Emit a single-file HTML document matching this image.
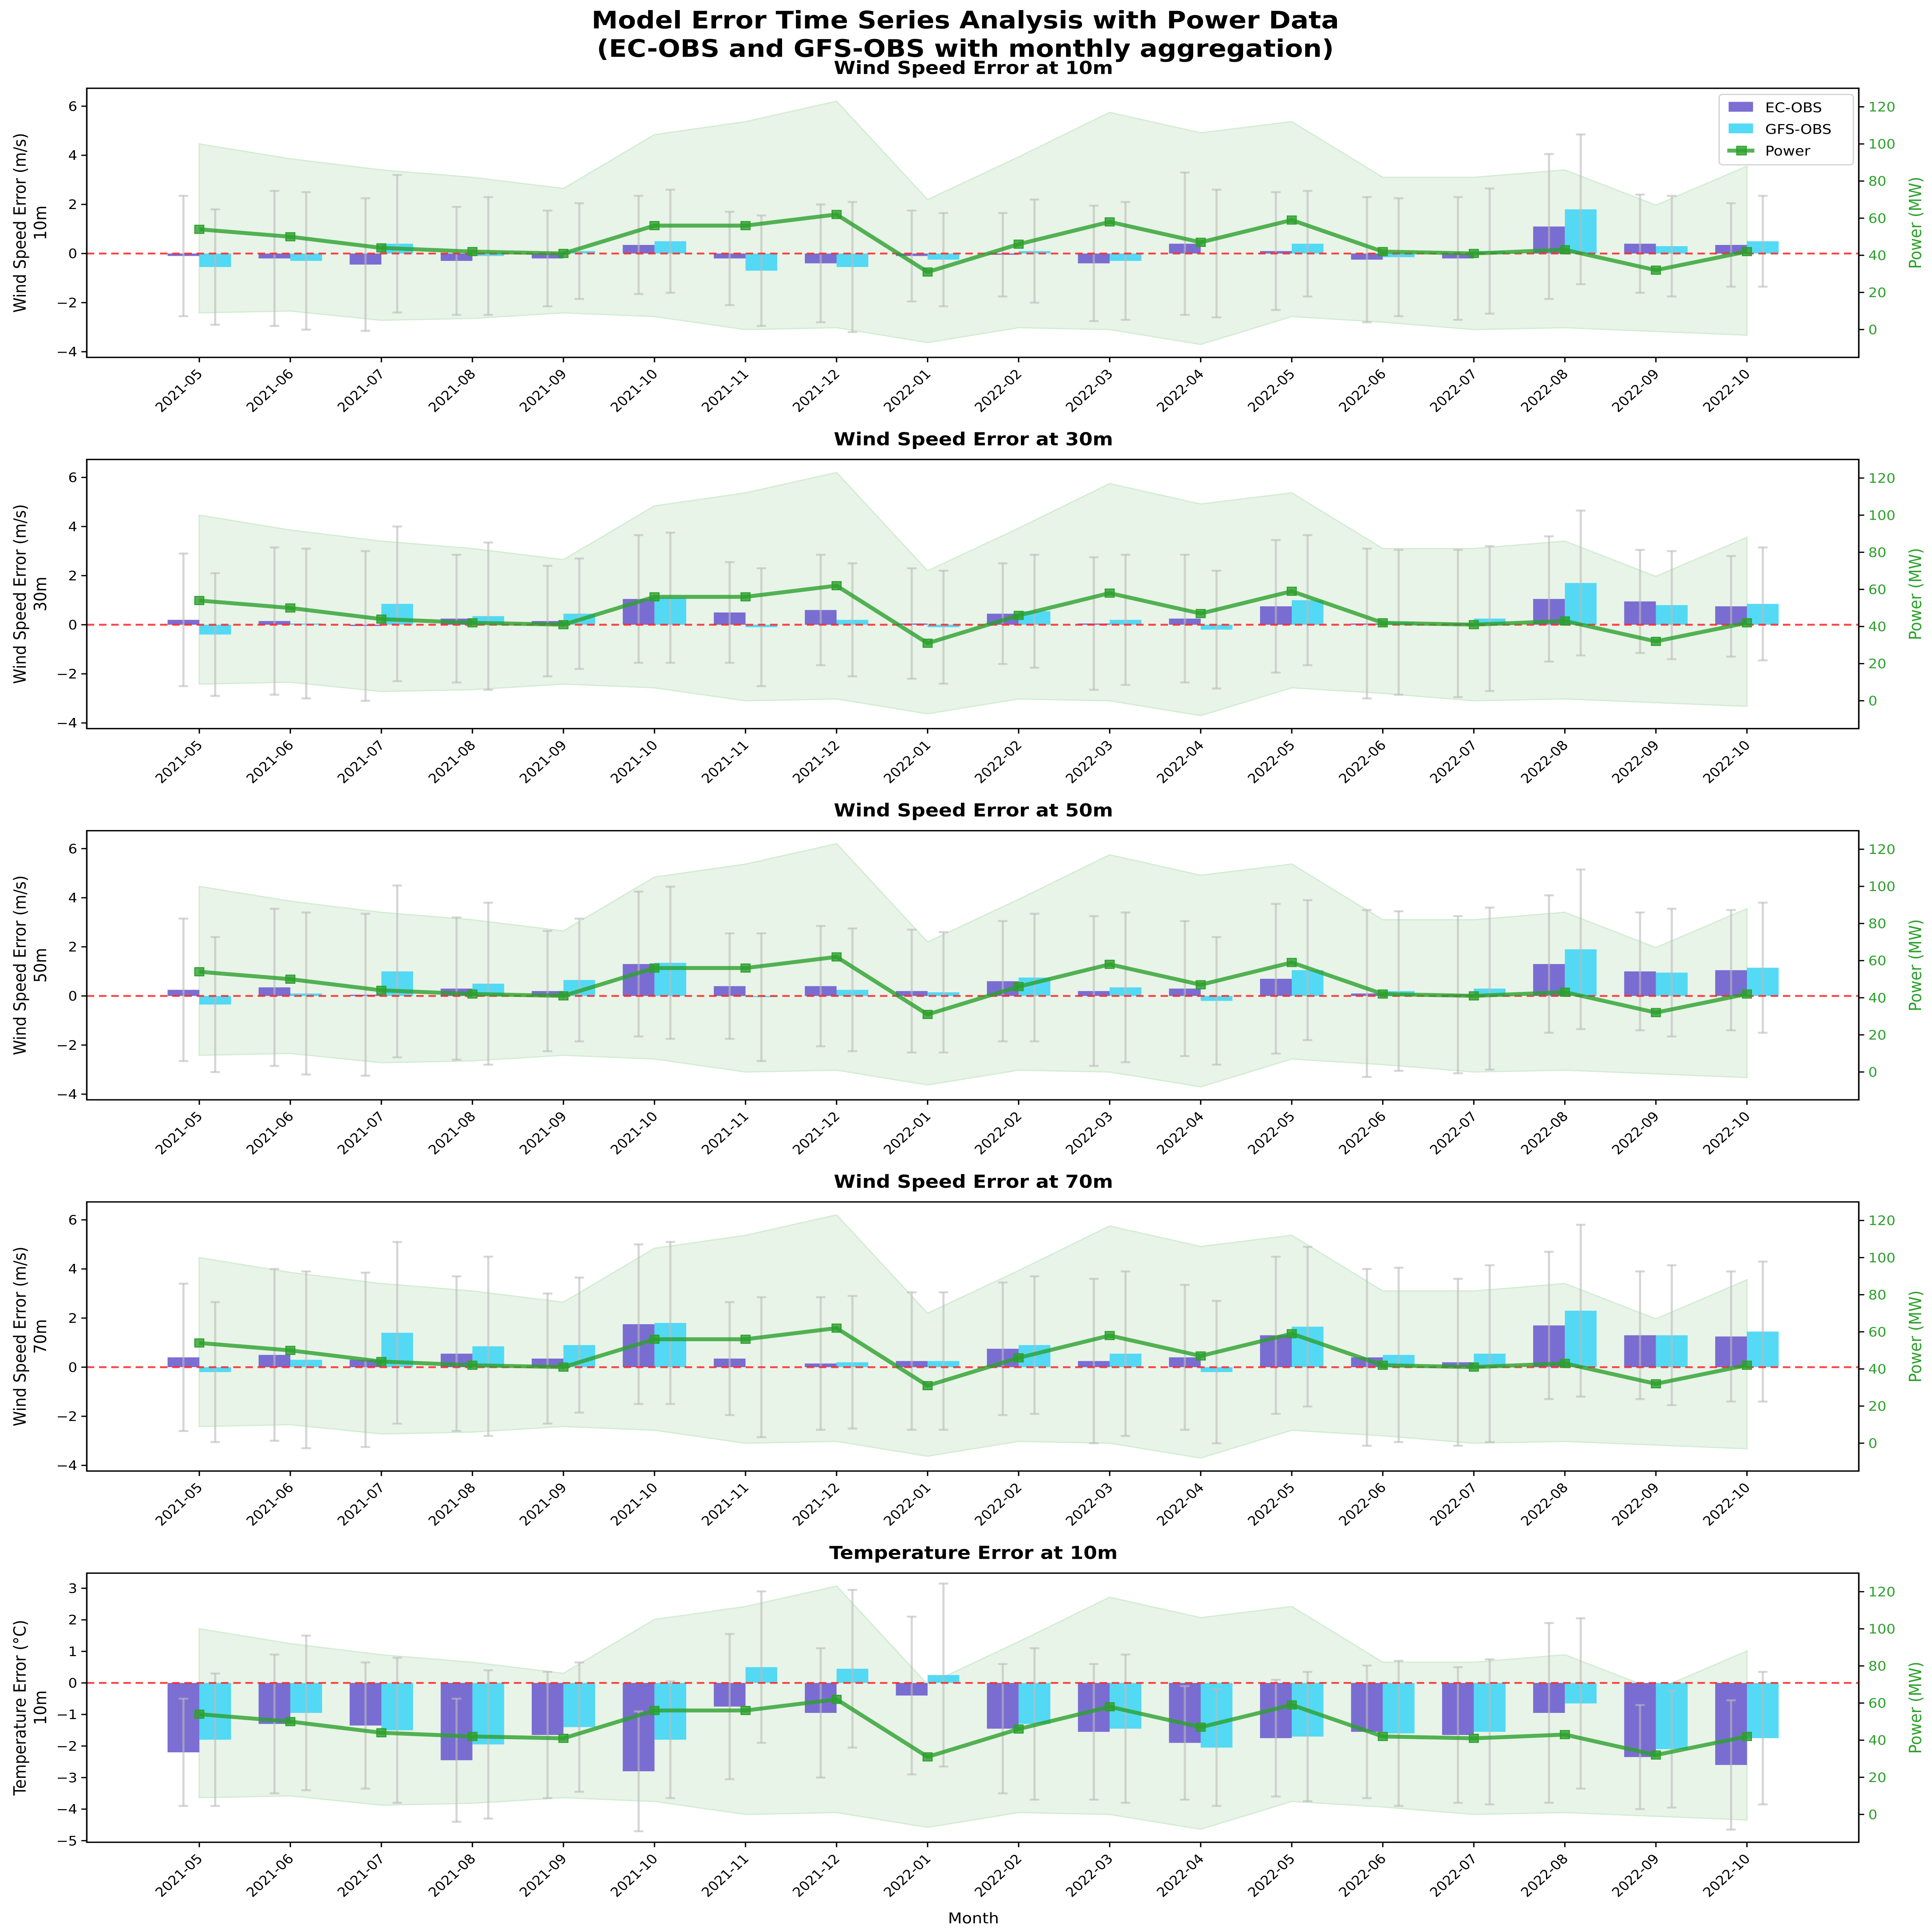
<!DOCTYPE html>
<html><head><meta charset="utf-8">
<style>
html,body{margin:0;padding:0;background:#fff;width:100vw;height:100vh;overflow:hidden;}
svg{display:block;font-family:"DejaVu Sans","Liberation Sans",sans-serif;width:100vw;height:100vh;}
</style></head>
<body>
<svg id="chart" viewBox="0 0 1425 1565" preserveAspectRatio="none" xmlns="http://www.w3.org/2000/svg">
<rect x="0" y="0" width="1425" height="1565" fill="#fff"/>
<text x="712" y="23" text-anchor="middle" font-size="19.5" font-weight="bold">Model Error Time Series Analysis with Power Data</text>
<text x="712" y="46" text-anchor="middle" font-size="19.5" font-weight="bold">(EC-OBS and GFS-OBS with monthly aggregation)</text>
<text x="718" y="1558" text-anchor="middle" font-size="12">Month</text>
<g id="plots"></g>
</svg>
<script>
const months = ["2021-05","2021-06","2021-07","2021-08","2021-09","2021-10","2021-11","2021-12","2022-01","2022-02","2022-03","2022-04","2022-05","2022-06","2022-07","2022-08","2022-09","2022-10"];
const powerMean = [54,50,44,42,41,56,56,62,31,46,58,47,59,42,41,43,32,42];
const powerMax = [100,92,86,82,76,105,112,123,70,93,117,106,112,82,82,86,67,88];
const powerMin = [9,10,5,6,9,7,0,1,-7,1,0,-8,7,4,0,1,-1,-3];
const panelTitles = ["Wind Speed Error at 10m","Wind Speed Error at 30m","Wind Speed Error at 50m","Wind Speed Error at 70m","Temperature Error at 10m"];
const panelLabels = ["Wind Speed Error (m/s)","Wind Speed Error (m/s)","Wind Speed Error (m/s)","Wind Speed Error (m/s)","Temperature Error (°C)"];
const panelHeights = ["10m","30m","50m","70m","10m"];
const ec10 = [-0.1,-0.2,-0.45,-0.3,-0.2,0.35,-0.2,-0.4,-0.1,-0.05,-0.4,0.4,0.1,-0.25,-0.2,1.1,0.4,0.35];
const gfs10 = [-0.55,-0.3,0.4,-0.1,0.1,0.5,-0.7,-0.55,-0.25,0.1,-0.3,0,0.4,-0.15,0.1,1.8,0.3,0.5];
const ecErr10 = [2.45,2.75,2.7,2.2,1.95,2.0,1.9,2.4,1.85,1.7,2.35,2.9,2.4,2.55,2.5,2.95,2.0,1.7];
const gfsErr10 = [2.35,2.8,2.8,2.4,1.95,2.1,2.25,2.65,1.9,2.1,2.4,2.6,2.15,2.4,2.55,3.05,2.05,1.85];
const ec30 = [0.2,0.15,-0.05,0.25,0.15,1.05,0.5,0.6,0.05,0.45,0.05,0.25,0.75,0.05,0.05,1.05,0.95,0.75];
const gfs30 = [-0.4,0.05,0.85,0.35,0.45,1.1,-0.1,0.2,-0.1,0.55,0.2,-0.2,1.0,0.1,0.25,1.7,0.8,0.85];
const ecErr30 = [2.7,3.0,3.05,2.6,2.25,2.6,2.05,2.25,2.25,2.05,2.7,2.6,2.7,3.05,3.0,2.55,2.1,2.05];
const gfsErr30 = [2.5,3.05,3.15,3.0,2.25,2.65,2.4,2.3,2.3,2.3,2.65,2.4,2.65,2.95,2.95,2.95,2.2,2.3];
const ec50 = [0.25,0.35,0.05,0.3,0.2,1.3,0.4,0.4,0.2,0.6,0.2,0.3,0.7,0.1,0.05,1.3,1.0,1.05];
const gfs50 = [-0.35,0.1,1.0,0.5,0.65,1.35,-0.05,0.25,0.15,0.75,0.35,-0.2,1.05,0.2,0.3,1.9,0.95,1.15];
const ecErr50 = [2.9,3.2,3.3,2.9,2.45,2.95,2.15,2.45,2.5,2.45,3.05,2.75,3.05,3.4,3.2,2.8,2.4,2.45];
const gfsErr50 = [2.75,3.3,3.5,3.3,2.5,3.1,2.6,2.5,2.45,2.6,3.05,2.6,2.85,3.25,3.3,3.25,2.6,2.65];
const ec70 = [0.4,0.5,0.3,0.55,0.35,1.75,0.35,0.15,0.25,0.75,0.25,0.4,1.3,0.4,0.2,1.7,1.3,1.25];
const gfs70 = [-0.2,0.3,1.4,0.85,0.9,1.8,0,0.2,0.25,0.9,0.55,-0.2,1.65,0.5,0.55,2.3,1.3,1.45];
const ecErr70 = [3.0,3.5,3.55,3.15,2.65,3.25,2.3,2.7,2.8,2.7,3.35,2.95,3.2,3.6,3.4,3.0,2.6,2.65];
const gfsErr70 = [2.85,3.6,3.7,3.65,2.75,3.3,2.85,2.7,2.8,2.8,3.35,2.9,3.25,3.55,3.6,3.5,2.85,2.85];
const ecT = [-2.2,-1.3,-1.35,-2.45,-1.65,-2.8,-0.75,-0.95,-0.4,-1.45,-1.55,-1.9,-1.75,-1.55,-1.65,-0.95,-2.35,-2.6];
const gfsT = [-1.8,-0.95,-1.5,-1.95,-1.4,-1.8,0.5,0.45,0.25,-1.3,-1.45,-2.05,-1.7,-1.6,-1.55,-0.65,-2.1,-1.75];
const ecErrT = [1.7,2.2,2.0,1.95,2.0,1.9,2.3,2.05,2.5,2.05,2.15,1.8,1.85,2.1,2.15,2.85,1.65,2.05];
const gfsErrT = [2.1,2.45,2.3,2.35,2.05,1.85,2.4,2.5,2.9,2.4,2.35,1.85,2.05,2.3,2.3,2.7,1.85,2.1];
const windTicks = [-4,-2,0,2,4,6];
const tempTicks = [-5,-4,-3,-2,-1,0,1,2,3];
const powerTicks = [0,20,40,60,80,100,120];

const ecSeries = [ec10,ec30,ec50,ec70,ecT];
const gfsSeries = [gfs10,gfs30,gfs50,gfs70,gfsT];
const ecErrs = [ecErr10,ecErr30,ecErr50,ecErr70,ecErrT];
const gfsErrs = [gfsErr10,gfsErr30,gfsErr50,gfsErr70,gfsErrT];

const NS = "http://www.w3.org/2000/svg";
const root = document.getElementById("plots");
function mk(tag, attrs, parent){
  const e = document.createElementNS(NS, tag);
  for (const k in attrs) e.setAttribute(k, attrs[k]);
  (parent||root).appendChild(e);
  return e;
}
const L = 64, R = 1371, H = 218;
const tops = [71.5, 372.2, 672.9, 973.6, 1274.3];
const x0 = 147, dx = (1288.5-147)/17, bw = 23.4;
const xs = i => x0 + i*dx;

for (let p = 0; p < 5; p++) {
  const top = tops[p], bot = top + H;
  const isT = p === 4;
  const ymin = isT ? -5.05 : -4.23, ymax = isT ? 3.48 : 6.73;
  const y = v => bot - (v - ymin) / (ymax - ymin) * H;
  const pmin = -15, pmax = 130;
  const yp = v => bot - (v - pmin) / (pmax - pmin) * H;
  const g = mk("g", {});
  
  

  let d = "";
  months.forEach((m,i)=>{ d += (i?"L":"M") + xs(i) + " " + yp(powerMax[i]); });
  for (let i = months.length-1; i >= 0; i--) d += "L" + xs(i) + " " + yp(powerMin[i]);
  const band = mk("path", {d: d+"Z", fill:"#e8f4e8", stroke:"#d2ecd2", "stroke-width":1}, g);
  
  

  months.forEach((m,i)=>{
    const ev = ecSeries[p][i], gv = gfsSeries[p][i];
    const b1 = mk("rect", {x: xs(i)-bw, y: Math.min(y(ev),y(0)), width: bw, height: Math.abs(y(ev)-y(0)), fill:"#6a5acd", "fill-opacity":0.88}, g);
    
    
    const b2 = mk("rect", {x: xs(i), y: Math.min(y(gv),y(0)), width: bw, height: Math.abs(y(gv)-y(0)), fill:"#3dd5f5", "fill-opacity":0.88}, g);
    
    
    [[xs(i)-bw/2, ev, ecErrs[p][i]],[xs(i)+bw/2, gv, gfsErrs[p][i]]].forEach(([cx,v,e])=>{
      const eb = mk("g", {stroke:"#bbbbbb", "stroke-opacity":0.6, "stroke-width":1.6}, g);
      
      
      mk("line", {x1:cx, x2:cx, y1:y(v+e), y2:y(v-e)}, eb);
      mk("line", {x1:cx-3.5, x2:cx+3.5, y1:y(v+e), y2:y(v+e)}, eb);
      mk("line", {x1:cx-3.5, x2:cx+3.5, y1:y(v-e), y2:y(v-e)}, eb);
    });
  });

  const zl = mk("line", {x1:L, x2:R, y1:y(0), y2:y(0), stroke:"#f22", "stroke-opacity":0.85, "stroke-width":1.5, "stroke-dasharray":"5.5,3.5"}, g);
  
  

  const pts = months.map((m,i)=> xs(i)+","+yp(powerMean[i])).join(" ");
  const pl = mk("polyline", {points: pts, fill:"none", stroke:"#2ca02c", "stroke-opacity":0.8, "stroke-width":3.2, "stroke-linejoin":"round"}, g);
  
  
  months.forEach((m,i)=>{
    const mkr = mk("rect", {x: xs(i)-3.3, y: yp(powerMean[i])-3.3, width:6.6, height:6.6, fill:"#2ca02c", "fill-opacity":0.8, stroke:"#2ca02c", "stroke-width":0.8}, g);
    
    
  });

  const fr = mk("rect", {x:L, y:top, width:R-L, height:H, fill:"none", stroke:"#000", "stroke-width":1.1}, g);
  
  

  (isT ? tempTicks : windTicks).forEach(t=>{
    mk("line", {x1:L-4, x2:L, y1:y(t), y2:y(t), stroke:"#000", "stroke-width":1}, g);
    const tl = mk("text", {x:L-7, y:y(t)+3.8, "text-anchor":"end", "font-size":10.5}, g);
    tl.textContent = t < 0 ? "\u2212" + Math.abs(t) : String(t);
    
    
  });
  powerTicks.forEach(t=>{
    mk("line", {x1:R, x2:R+4, y1:yp(t), y2:yp(t), stroke:"#000", "stroke-width":1}, g);
    const tl = mk("text", {x:R+7, y:yp(t)+3.8, "font-size":10.5, fill:"#2ca02c"}, g);
    tl.textContent = String(t);
    
    
  });
  months.forEach((m,i)=>{
    mk("line", {x1:xs(i), x2:xs(i), y1:bot, y2:bot+4, stroke:"#000", "stroke-width":1}, g);
    const tl = mk("text", {x:xs(i)+3, y:bot+14, "text-anchor":"end", "font-size":10.5, transform:"rotate(-45 "+(xs(i)+3)+" "+(bot+14)+")"}, g);
    tl.textContent = m;
    
    
  });
  const st = mk("text", {x:718, y:top-11.5, "text-anchor":"middle", "font-size":14.5, "font-weight":"bold"}, g);
  st.textContent = panelTitles[p];
  
  
  const cy = top + H/2;
  const yl = mk("text", {x:0, y:0, "text-anchor":"middle", "font-size":12.5, transform:"translate(19 "+cy+") rotate(-90)"}, g);
  yl.textContent = panelLabels[p];
  
  
  const yl2 = mk("text", {x:0, y:0, "text-anchor":"middle", "font-size":12.5, transform:"translate(34 "+cy+") rotate(-90)"}, g);
  yl2.textContent = panelHeights[p];
  
  
  const yr = mk("text", {x:0, y:0, "text-anchor":"middle", "font-size":12.5, fill:"#2ca02c", transform:"translate(1417 "+cy+") rotate(-90)"}, g);
  yr.textContent = "Power (MW)";
  
  

  if (p === 0) {
    const lg = mk("g", {}, g);
    
    
    mk("rect", {x:1268, y:76.5, width:99, height:57, rx:2.5, fill:"#fff", "fill-opacity":0.85, stroke:"#d5d5d5", "stroke-width":1}, lg);
    mk("rect", {x:1275, y:82.5, width:18, height:8, fill:"#6a5acd", "fill-opacity":0.88}, lg);
    mk("rect", {x:1275, y:100, width:18, height:8, fill:"#3dd5f5", "fill-opacity":0.88}, lg);
    mk("line", {x1:1274, x2:1294, y1:122, y2:122, stroke:"#2ca02c", "stroke-opacity":0.8, "stroke-width":3.2}, lg);
    mk("rect", {x:1281, y:118.5, width:7, height:7, fill:"#2ca02c", "fill-opacity":0.8, stroke:"#2ca02c", "stroke-width":0.8}, lg);
    [["EC-OBS",91],["GFS-OBS",108.5],["Power",126]].forEach(([t,yy])=>{
      const lt = mk("text", {x:1302, y:yy, "font-size":11}, lg);
      lt.textContent = t;
      
      
    });
  }
}
</script>
</body></html>
